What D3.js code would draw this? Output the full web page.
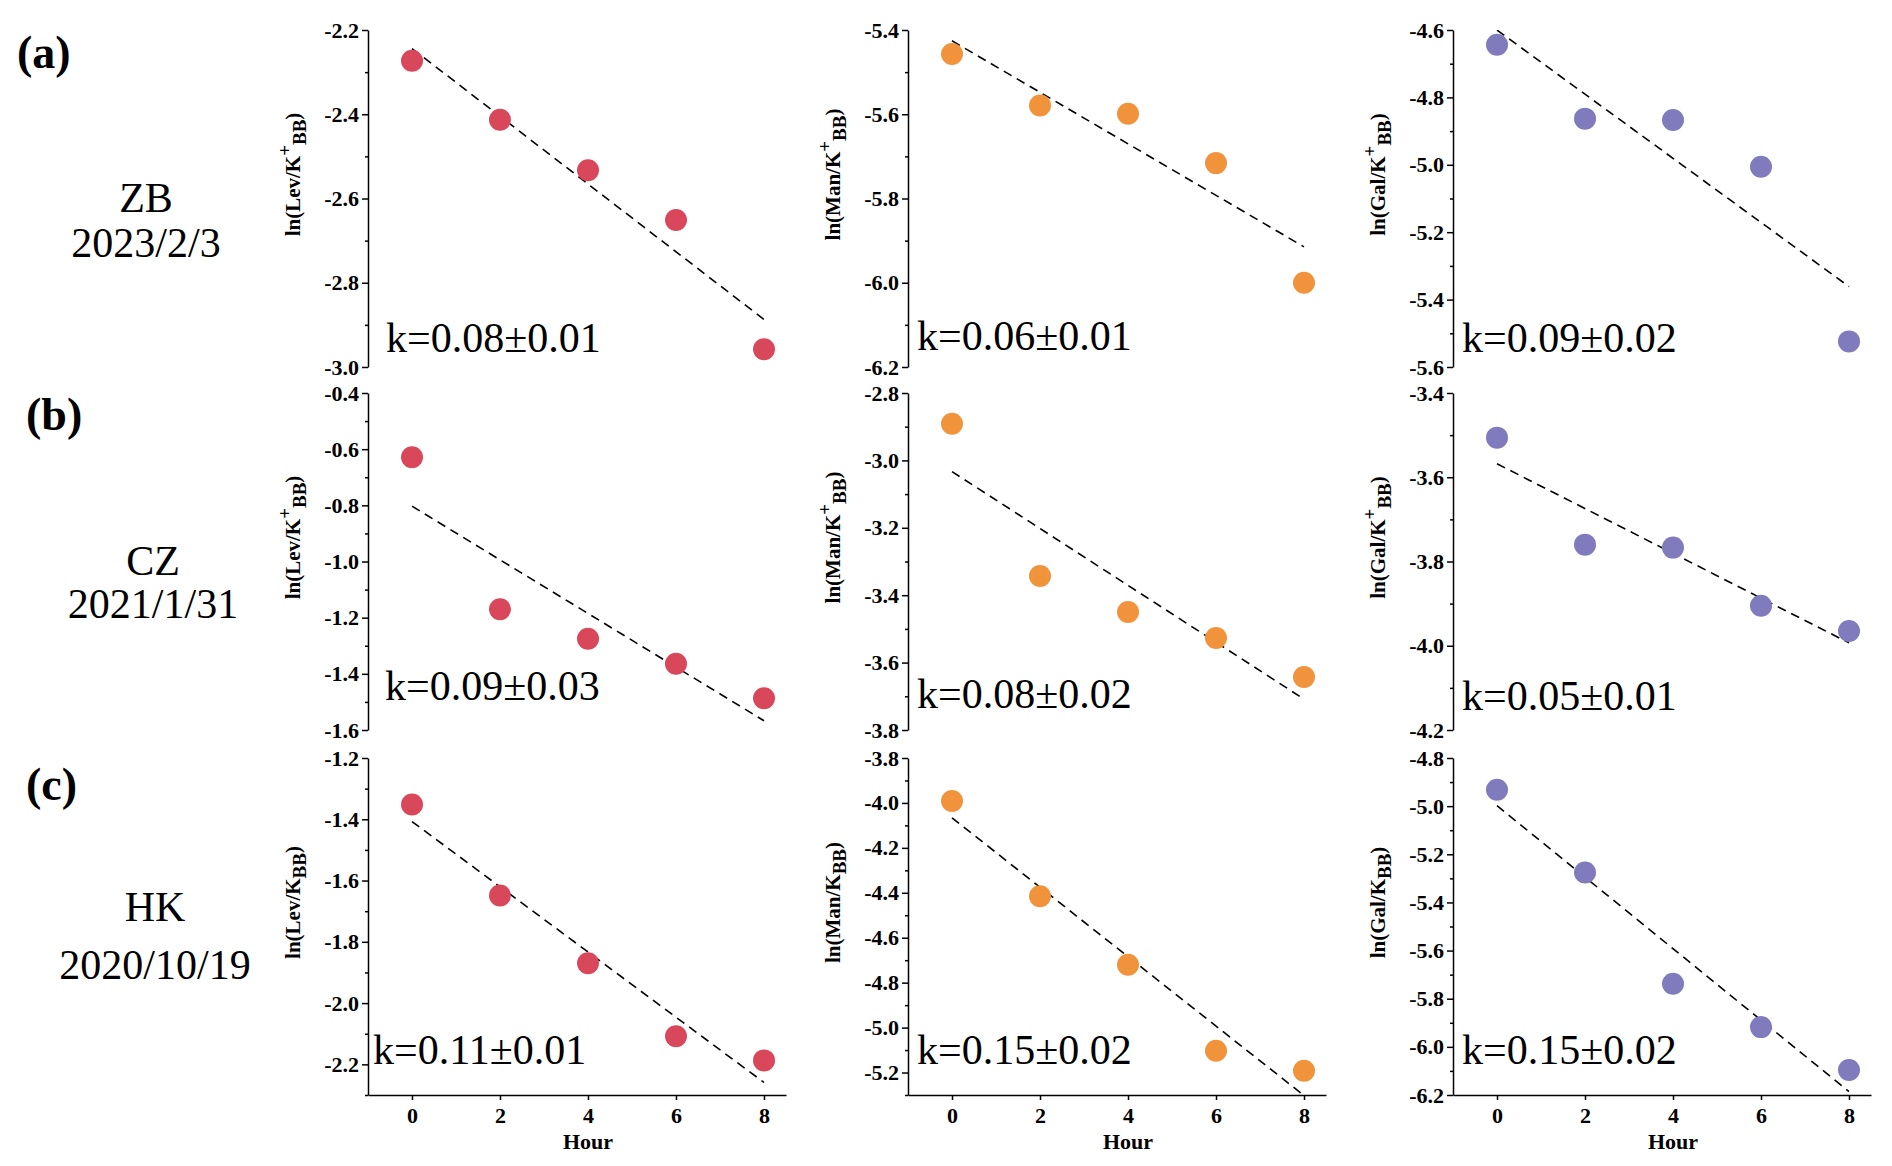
<!DOCTYPE html>
<html>
<head>
<meta charset="utf-8">
<script src="https://cdn.jsdelivr.net/npm/d3@7"></script>
<style>
  body { margin: 0; background: #fff; }
  svg text { font-family: "Liberation Serif", "Times New Roman", serif; fill: #000; }
  .axis path, .axis line { stroke: #000; stroke-width: 1.5; }
  .axis text { font-weight: bold; font-size: 22px; font-family: "Liberation Serif", serif; }
</style>
</head>
<body>
<svg id="chart" width="1892" height="1166"></svg>
<script>
// ---- data ----
const hours = [0, 2, 4, 6, 8];
const sites = ["ZB", "CZ", "HK"];
const dates = ["2023/2/3", "2021/1/31", "2020/10/19"];
const panelTags = ["(a)", "(b)", "(c)"];
const species = ["Lev", "Man", "Gal"];

const levZB = [-2.273, -2.413, -2.533, -2.651, -2.958];
const manZB = [-5.457, -5.579, -5.599, -5.716, -6.000];
const galZB = [-4.644, -4.863, -4.867, -5.006, -5.524];
const levCZ = [-0.629, -1.170, -1.275, -1.364, -1.487];
const manCZ = [-2.891, -3.343, -3.450, -3.527, -3.643];
const galCZ = [-3.506, -3.760, -3.767, -3.905, -3.965];
const levHK = [-1.352, -1.649, -1.870, -2.108, -2.187];
const manHK = [-3.991, -4.415, -4.720, -5.103, -5.192];
const galHK = [-4.932, -5.276, -5.738, -5.918, -6.096];

const rateLabels = [
  ["k=0.08\u00b10.01", "k=0.06\u00b10.01", "k=0.09\u00b10.02"],
  ["k=0.09\u00b10.03", "k=0.08\u00b10.02", "k=0.05\u00b10.01"],
  ["k=0.11\u00b10.01", "k=0.15\u00b10.02", "k=0.15\u00b10.02"]
];

// y axis ranges (top tick, bottom of axis)
const yTop    = [[-2.2, -5.4, -4.6], [-0.4, -2.8, -3.4], [-1.2, -3.8, -4.8]];
const yBottom = [[-3.0, -6.2, -5.6], [-1.6, -3.8, -4.2], [-2.3, -5.3, -6.2]];
const xTicks = [0, 2, 4, 6, 8];

const series = [
  [levZB, manZB, galZB],
  [levCZ, manCZ, galCZ],
  [levHK, manHK, galHK]
];

// ---- layout ----
const colors = ["#d8475a", "#f0933b", "#7f7bbc"];
const colX = [368, 908, 1453];
const rowY = [30, 393, 758];
const panelW = 418, panelH = 337;
const kPos = [[[18, 322], [9, 320], [9, 322]],
              [[17, 307], [9, 315], [9, 317]],
              [[5, 306], [9, 306], [9, 306]]];
const siteX = [146, 153, 155];
const siteY = [[212, 257], [575, 618], [921, 979]];
const tagX = [17, 26, 26];
const tagY = [68, 430, 800];

const svg = d3.select("#chart");

const xScale = d3.scaleLinear().domain([-1, 8.5]).range([0, panelW]);

// least squares fit for the dashed line
function fit(xs, ys) {
  const mx = d3.mean(xs), my = d3.mean(ys);
  const sxy = d3.sum(xs, (x, i) => (x - mx) * (ys[i] - my));
  const sxx = d3.sum(xs, x => (x - mx) * (x - mx));
  const b = sxy / sxx;
  return { a: my - b * mx, b: b };
}

// row labels
sites.forEach((s, r) => {
  svg.append("text")
    .attr("x", tagX[r]).attr("y", tagY[r])
    .attr("font-size", 46).attr("font-weight", "bold")
    .text(panelTags[r]);
  svg.append("text")
    .attr("x", siteX[r]).attr("y", siteY[r][0])
    .attr("text-anchor", "middle").attr("font-size", 42)
    .text(s);
  svg.append("text")
    .attr("x", siteX[r]).attr("y", siteY[r][1])
    .attr("text-anchor", "middle").attr("font-size", 42)
    .text(dates[r]);
});

series.forEach((row, r) => {
  row.forEach((vals, c) => {
    const g = svg.append("g")
      .attr("transform", `translate(${colX[c]},${rowY[r]})`);

    const top = yTop[r][c], bottom = yBottom[r][c];
    const yScale = d3.scaleLinear().domain([bottom, top]).range([panelH, 0]);

    const nMajor = Math.floor((top - bottom) / 0.2 + 1e-6);
    const majors = d3.range(nMajor + 1).map(i => +(top - 0.2 * i).toFixed(1));
    const nMinor = Math.floor((top - bottom) / 0.1 + 1e-6);
    const minors = d3.range(nMinor + 1).map(i => +(top - 0.1 * i).toFixed(1))
      .filter(v => !majors.includes(v));

    // clip for the fit line
    const clipId = `clip-${r}-${c}`;
    g.append("clipPath").attr("id", clipId)
      .append("rect").attr("width", panelW).attr("height", panelH);

    // minor ticks
    g.append("g").attr("class", "axis")
      .call(d3.axisLeft(yScale).tickValues(minors).tickSize(3).tickFormat(""))
      .call(a => a.select(".domain").remove());

    // y axis
    g.append("g").attr("class", "axis")
      .call(d3.axisLeft(yScale).tickValues(majors).tickSize(6).tickSizeOuter(0)
        .tickPadding(3).tickFormat(d => d.toFixed(1)));

    // x axis only on last row
    if (r === 2) {
      g.append("g").attr("class", "axis")
        .attr("transform", `translate(0,${panelH})`)
        .call(d3.axisBottom(xScale).tickValues(xTicks).tickSize(5).tickSizeOuter(0)
          .tickPadding(7).tickFormat(d3.format("d")));
      g.append("text")
        .attr("x", xScale(4)).attr("y", panelH + 54)
        .attr("text-anchor", "middle")
        .attr("font-size", 22).attr("font-weight", "bold")
        .text("Hour");
    }

    // y title
    const title = g.append("text")
      .attr("transform", `translate(-68,${panelH / 2 - 24}) rotate(-90)`)
      .attr("text-anchor", "middle")
      .attr("font-size", 21).attr("font-weight", "bold");
    title.append("tspan").text(`ln(${species[c]}/K`);
    if (r < 2) {
      title.append("tspan").attr("dy", -9).attr("font-size", 19).text("+");
      title.append("tspan").attr("dy", 15).attr("font-size", 19).text("BB");
      title.append("tspan").attr("dy", -6).text(")");
    } else {
      title.append("tspan").attr("dy", 6).attr("font-size", 19).text("BB");
      title.append("tspan").attr("dy", -6).text(")");
    }

    // fit line
    const f = fit(hours, vals);
    const line = d3.line()
      .x(d => xScale(d))
      .y(d => yScale(f.a + f.b * d));
    g.append("path")
      .attr("clip-path", `url(#${clipId})`)
      .attr("d", line([hours[0], hours[hours.length - 1]]))
      .attr("fill", "none")
      .attr("stroke", "#000")
      .attr("stroke-width", 1.6)
      .attr("stroke-dasharray", "9,6");

    // points
    g.selectAll("circle")
      .data(vals)
      .enter().append("circle")
        .attr("cx", (d, i) => xScale(hours[i]))
        .attr("cy", d => yScale(d))
        .attr("r", 11)
        .attr("fill", colors[c]);

    // rate label
    g.append("text")
      .attr("x", kPos[r][c][0]).attr("y", kPos[r][c][1])
      .attr("font-size", 42)
      .text(rateLabels[r][c]);
  });
});
</script>
</body>
</html>
